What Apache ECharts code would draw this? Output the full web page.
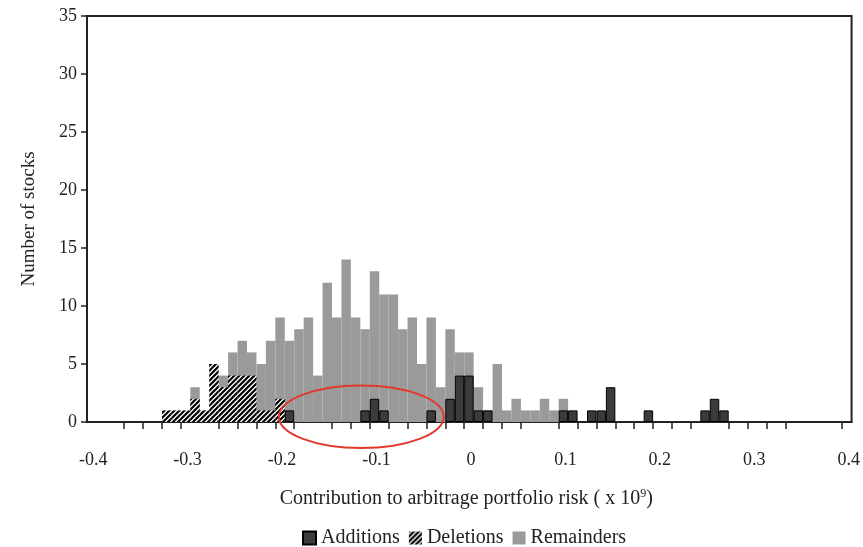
<!DOCTYPE html>
<html><head><meta charset="utf-8">
<script src="https://cdn.jsdelivr.net/npm/echarts@6/dist/echarts.min.js"></script>
<style>html,body{margin:0;padding:0;background:#fff}#c{width:863px;height:547px}</style>
</head><body><div id="c"></div>
<script>
// bin centres (bin width 0.01)
const binCenters = [-0.32,-0.31,-0.30,-0.29,-0.28,-0.27,-0.26,-0.25,-0.24,-0.23,-0.22,-0.21,-0.20,-0.19,-0.18,-0.17,-0.16,-0.15,-0.14,-0.13,-0.12,-0.11,-0.10,-0.09,-0.08,-0.07,-0.06,-0.05,-0.04,-0.03,-0.02,-0.01,0.00,0.01,0.02,0.03,0.04,0.05,0.06,0.07,0.08,0.09,0.10,0.11,0.12,0.13,0.14,0.15,0.16,0.17,0.18,0.19,0.20,0.21,0.22,0.23,0.24,0.25,0.26,0.27];
const additions  = [0,0,0,0,0,0,0,0,0,0,0,0,0,1,0,0,0,0,0,0,0,1,2,1,0,0,0,0,1,0,2,4,4,1,1,0,0,0,0,0,0,0,1,1,0,1,1,3,0,0,0,1,0,0,0,0,0,1,2,1];
const deletions  = [1,1,1,2,1,5,3,4,4,4,1,1,2,0,0,0,0,0,0,0,0,0,0,0,0,0,0,0,0,0,0,0,0,0,0,0,0,0,0,0,0,0,0,0,0,0,0,0,0,0,0,0,0,0,0,0,0,0,0,0];
const remainders = [0,0,0,3,0,0,4,6,7,6,5,7,9,7,8,9,4,12,9,14,9,8,13,11,11,8,9,5,9,3,8,6,6,3,1,5,1,2,1,1,2,1,2,0,0,0,0,0,0,0,0,0,0,0,0,0,0,0,0,0];
const xTickLabels = [-0.4,-0.3,-0.2,-0.1,0,0.1,0.2,0.3,0.4];
const xTickMarks = [-0.365,-0.345,-0.325,-0.305,-0.265,-0.245,-0.225,-0.205,-0.185,-0.145,-0.125,-0.105,-0.085,-0.065,-0.045,-0.025,-0.005,0.015,0.035,0.055,0.095,0.115,0.135,0.155,0.175,0.195,0.215,0.235,0.275,0.295,0.315,0.335,0.395];
const seriesNames = ['Additions','Deletions','Remainders'];
const ellipseCenter = [-0.114, 0.45];
const ellipseHalf = [0.0873, 2.7];

const X_MIN = -0.4044, X_MAX = 0.4051, BIN = 0.01;
const GRID = {left: 87, right: 11, top: 16, bottom: 125};
const plotW = 863 - GRID.left - GRID.right;
const barW = plotW / (X_MAX - X_MIN) * BIN;

function pairs(vals){ return binCenters.map((x,i)=>[x, vals[i]]).filter(p=>p[1]>0); }
function hatch(){
  const s=5, c=document.createElement('canvas'); c.width=c.height=s;
  const g=c.getContext('2d'); g.fillStyle='#fff'; g.fillRect(0,0,s,s);
  g.strokeStyle='#000'; g.lineWidth=2.2; g.beginPath();
  g.moveTo(0,s); g.lineTo(s,0); g.moveTo(-1,1); g.lineTo(1,-1); g.moveTo(s-1,s+1); g.lineTo(s+1,s-1);
  g.stroke(); return c;
}
const FONT = '"Liberation Serif","Times New Roman",serif';
const chart = echarts.init(document.getElementById('c'));
chart.setOption({
  animation: false,
  backgroundColor: '#fff',
  grid: Object.assign({show: true, borderColor: '#222', borderWidth: 2, backgroundColor: 'transparent'}, GRID),
  legend: {
    data: seriesNames, bottom: -6, left: 297, icon: 'rect', itemWidth: 13, itemHeight: 13, itemGap: 9,
    textStyle: {fontFamily: FONT, fontSize: 20, color: '#222'}
  },
  xAxis: {
    type: 'value', min: X_MIN, max: X_MAX,
    name: 'Contribution to arbitrage portfolio risk ( x 10{sup|9})',
    nameLocation: 'middle', nameGap: 66,
    nameTextStyle: {fontFamily: FONT, fontSize: 20, color: '#222', padding: [0,0,0,-6],
      rich: {sup: {fontFamily: FONT, fontSize: 12, color: '#222', padding: [0,0,9,0]}}},
    axisLine: {show: true, onZero: false, lineStyle: {color: '#222', width: 2}},
    axisTick: {show: true, customValues: xTickMarks, length: 7, lineStyle: {color: '#222', width: 1.5}},
    axisLabel: {customValues: xTickLabels, margin: 29, padding: [0,0,0,4], fontFamily: FONT, fontSize: 18, color: '#222',
      formatter: v => String(Math.round(v*10)/10)},
    splitLine: {show: false}
  },
  yAxis: {
    type: 'value', min: 0, max: 35, interval: 5,
    name: 'Number of stocks', nameLocation: 'middle', nameGap: 48,
    nameTextStyle: {fontFamily: FONT, fontSize: 19, color: '#222'},
    axisLine: {show: true, onZero: false, lineStyle: {color: '#222', width: 2}},
    axisTick: {show: true, length: 6, lineStyle: {color: '#222', width: 1.5}},
    axisLabel: {margin: 10, fontFamily: FONT, fontSize: 18, color: '#222'},
    splitLine: {show: false}
  },
  series: [
    {name: 'Remainders', type: 'bar', data: pairs(remainders), barWidth: barW, barGap: '-100%',
      itemStyle: {color: '#9a9a9a'}},
    {name: 'Deletions', type: 'bar', data: pairs(deletions), barWidth: barW, barGap: '-100%',
      itemStyle: {color: {image: hatch(), repeat: 'repeat'}}},
    {name: 'Additions', type: 'bar', data: pairs(additions), barWidth: barW, barGap: '-100%',
      itemStyle: {color: '#3b3b3b', borderColor: '#000', borderWidth: 1}}
  ]
});
const p = chart.convertToPixel({gridIndex: 0}, ellipseCenter);
const q = chart.convertToPixel({gridIndex: 0}, [ellipseCenter[0]+ellipseHalf[0], ellipseCenter[1]+ellipseHalf[1]]);
chart.setOption({graphic: [{type: 'ellipse', z: 100,
  shape: {cx: p[0], cy: p[1], rx: q[0]-p[0], ry: p[1]-q[1]},
  style: {fill: 'none', stroke: '#e0392c', lineWidth: 2}}]});
</script></body></html>
